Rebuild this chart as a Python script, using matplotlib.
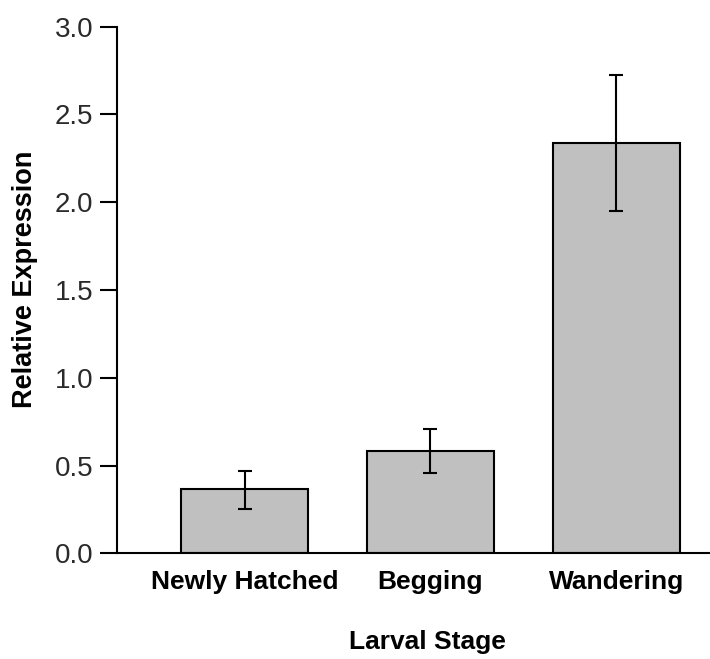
import matplotlib
matplotlib.use("Agg")
import matplotlib.pyplot as plt

FONT_NAME = "Liberation Sans"

stages = ["Newly Hatched", "Begging", "Wandering"]
expression = [0.365, 0.583, 2.34]
err_low = [0.252, 0.456, 1.949]
err_high = [0.469, 0.706, 2.727]
y_ticks = [0.0, 0.5, 1.0, 1.5, 2.0, 2.5, 3.0]


def main():
    fig = plt.figure(figsize=(7.1, 6.59), dpi=100)
    ax = fig.add_axes([117 / 710, 105.7 / 659, 593 / 710, 526.6 / 659])

    x = list(range(len(stages)))
    lower = [v - lo for v, lo in zip(expression, err_low)]
    upper = [hi - v for v, hi in zip(expression, err_high)]
    ax.bar(x, expression, width=0.683, color="#c0c0c0", edgecolor="black",
           linewidth=1.5, zorder=2)
    ax.errorbar(x, expression, yerr=[lower, upper], fmt="none", ecolor="black",
                elinewidth=1.5, capsize=5, capthick=1.5, zorder=3)

    ax.set_xlim(-0.686, 2.504)
    ax.set_ylim(0, 3.0)
    ax.set_yticks(y_ticks)
    ax.set_yticklabels([f"{t:.1f}" for t in y_ticks], fontname=FONT_NAME,
                       fontsize=20, color="#2a2a2a")
    ax.set_xticks(x)
    ax.set_xticklabels(stages, fontname=FONT_NAME, fontsize=19,
                       fontweight="bold")

    ax.spines["top"].set_visible(False)
    ax.spines["right"].set_visible(False)
    ax.spines["left"].set_linewidth(1.5)
    ax.spines["bottom"].set_linewidth(1.5)
    ax.tick_params(axis="y", length=12, width=1.5, pad=5)
    ax.tick_params(axis="x", length=0, pad=12)
    ax.get_yaxis().get_major_ticks()[0].tick1line.set_clip_on(False)

    ax.set_ylabel("Relative Expression", fontname=FONT_NAME, fontsize=19.5,
                  fontweight="bold", va="center")
    ax.yaxis.set_label_coords(-0.155, 0.521)
    ax.set_xlabel("Larval Stage", fontname=FONT_NAME, fontsize=19,
                  fontweight="bold", va="center")
    ax.xaxis.set_label_coords(0.523, -0.168)

    fig.savefig("out.png", dpi=100)


if __name__ == "__main__":
    main()
